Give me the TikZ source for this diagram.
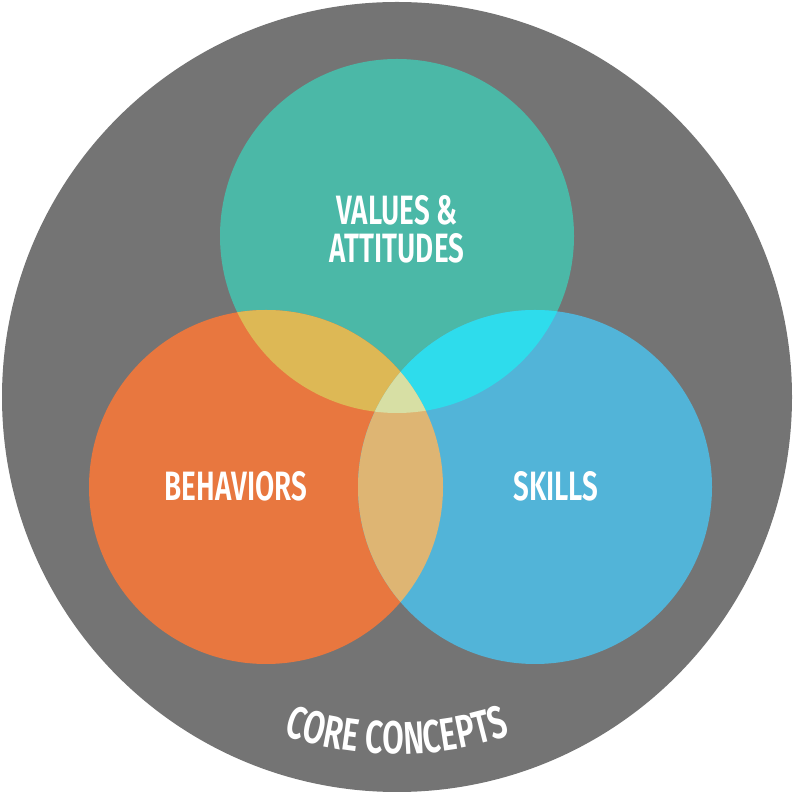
\documentclass[tikz,border=0pt]{standalone}
\usepackage{fontspec}
\setmainfont{Fira Sans}
\newfontfamily\lblfont[FakeStretch=0.68]{Fira Sans SemiBold}
\usetikzlibrary{decorations.text}
\definecolor{greyc}{HTML}{747474}
\definecolor{tealc}{HTML}{4BB8A7}
\definecolor{orangec}{HTML}{E8773F}
\definecolor{bluec}{HTML}{52B4D8}
\definecolor{tocol}{HTML}{DDB855}
\definecolor{tbcol}{HTML}{2EDCEC}
\definecolor{obcol}{HTML}{DEB573}
\definecolor{allcol}{HTML}{D7DFA4}
\tikzset{lbl/.style={text=white,font=\lblfont\fontsize{41}{41}\selectfont,align=center}}
\begin{document}
\begin{tikzpicture}[x=1pt,y=1pt]
\useasboundingbox (0,0) rectangle (794,794);
\fill[greyc] (397,397) circle (395);
\def\T{(397,558) circle (177)}
\def\O{(266,307) circle (177)}
\def\B{(535,307) circle (177)}
\fill[tealc] \T; \fill[orangec] \O; \fill[bluec] \B;
\begin{scope}\clip \T; \fill[tocol] \O; \fill[tbcol] \B;\end{scope}
\begin{scope}\clip \O; \fill[obcol] \B;\end{scope}
\begin{scope}\clip \T; \clip \O; \fill[allcol] \B;\end{scope}
\node[lbl] (va) at (397,565) {VALUES \&\\[-3pt]ATTITUDES};
\node[lbl] (be) at (236,308) {BEHAVIORS};
\node[lbl] (sk) at (556,308) {SKILLS};
\path[decorate,decoration={text along path,text align=center,
  text={|\color{white}\lblfont\fontsize{46}{46}\selectfont|CORE CONCEPTS}}]
  (397,397) ++(235:357) arc (235:305:357);
\end{tikzpicture}
\end{document}
